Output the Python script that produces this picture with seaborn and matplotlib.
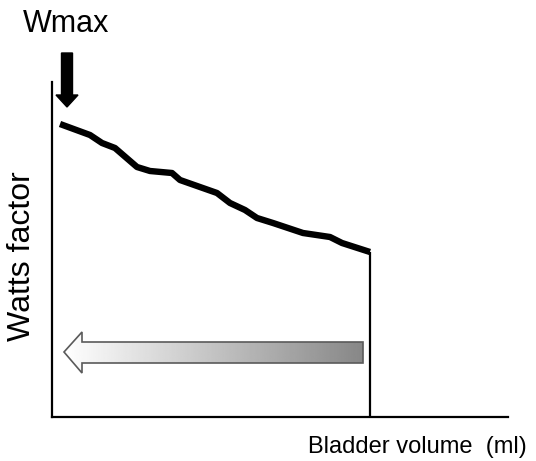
import numpy as np
import pandas as pd
import matplotlib
matplotlib.use("Agg")
import matplotlib.pyplot as plt
import seaborn as sns
from matplotlib.patches import Polygon, FancyArrow

# curve (arbitrary units, 0..456 wide, 0..335 high)
volume = [8, 38, 50, 63, 85, 98, 120, 128, 165, 178, 193, 205, 221, 251, 278, 290, 318]
watts = [293, 282, 274, 269, 250, 246, 244, 237, 224, 214, 207, 199, 194, 184, 180, 174, 165]

df = pd.DataFrame({"volume": volume, "watts": watts})

sns.set_style("white")
plt.rcParams["font.family"] = ["Liberation Sans", "DejaVu Sans"]
plt.rcParams["text.color"] = "black"

fig = plt.figure(figsize=(5.36, 4.61), dpi=100)
ax = fig.add_axes([52/536, 44/461, 456/536, 335/461])

sns.lineplot(data=df, x="volume", y="watts", ax=ax, color="black", lw=4.6,
             solid_capstyle="butt", solid_joinstyle="round")
# drop line at the end of the filling
ax.vlines(volume[-1], 0, watts[-1], color="black", lw=1.6)

ax.set_xlim(0, 456)
ax.set_ylim(0, 335)
ax.set_xticks([])
ax.set_yticks([])
ax.set_xlabel("")
ax.set_ylabel("")
sns.despine(ax=ax)
for s in ["left", "bottom"]:
    ax.spines[s].set_linewidth(1.6)
    ax.spines[s].set_color("black")

# Wmax arrow
ax.add_patch(FancyArrow(15, 364, 0, -54, width=11, head_width=22, head_length=12,
                        length_includes_head=True, color="black", clip_on=False))

# gradient arrow pointing left
pts = [(12, 65), (30, 85), (30, 75), (311, 75), (311, 54), (30, 54), (30, 44)]
poly = Polygon(pts, closed=True, facecolor="none", edgecolor="#5a5a5a", lw=1.2, zorder=3)
ax.add_patch(poly)
grad = np.linspace(1.0, 0.53, 256).reshape(1, -1)
im = ax.imshow(grad, extent=[12, 311, 44, 85], cmap="gray", vmin=0, vmax=1,
               aspect="auto", zorder=2, interpolation="bilinear")
im.set_clip_path(poly)
ax.set_xlim(0, 456)
ax.set_ylim(0, 335)

fig.text(23/536, 1 - 24/461, "Wmax", fontsize=22, ha="left", va="center")
fig.text(22/536, 1 - 256/461, "Watts factor", fontsize=23, rotation=90,
         ha="center", va="center")
fig.text(417/536, 1 - 447/461, "Bladder volume  (ml)", fontsize=17,
         ha="center", va="center")

fig.savefig("out.png", dpi=100)
